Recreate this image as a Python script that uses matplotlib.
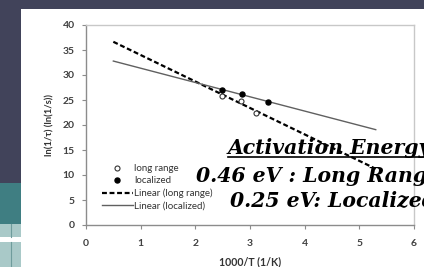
import numpy as np
import matplotlib
matplotlib.use("Agg")
import matplotlib.pyplot as plt
from matplotlib.patches import Rectangle
from matplotlib.lines import Line2D

# data
long_x = [2.48, 2.83, 3.11]
long_y = [25.9, 24.9, 22.5]
loc_x = [2.48, 2.85, 3.33]
loc_y = [27.0, 26.3, 24.6]
trend_range = [0.5, 5.3]
xticks = [0, 1, 2, 3, 4, 5, 6]
yticks = [0, 5, 10, 15, 20, 25, 30, 35, 40]

W, H = 424, 267
fig = plt.figure(figsize=(W / 100, H / 100), dpi=100)
fig.patch.set_facecolor("white")

dark = "#41435a"
teal = "#3f7e82"
light = "#a9c9c8"

# slide decoration around the chart
def px_rect(x0, y0, w, h, color):
    fig.patches.append(Rectangle((x0 / W, 1 - (y0 + h) / H), w / W, h / H,
                                 transform=fig.transFigure, color=color, lw=0, zorder=0))

px_rect(0, 0, W, 9, dark)
px_rect(0, 0, 21, 183, dark)
px_rect(0, 183, 21, 41, teal)
px_rect(0, 224, 21, 13, light)
px_rect(0, 242, 21, 25, light)
for y0, y1 in [(224, 237), (242, 267)]:
    fig.add_artist(Line2D([10.7 / W, 10.7 / W], [1 - y0 / H, 1 - y1 / H],
                          color="#6f9c9c", lw=0.8))

ax = fig.add_axes([86 / W, 1 - 225 / H, 328 / W, 200 / H])
ax.set_facecolor("white")

tx = np.array(trend_range)
p_long = np.polyfit(long_x, long_y, 1)
p_loc = np.polyfit(loc_x, loc_y, 1)

ax.plot(long_x, long_y, "o", mfc="white", mec="#333333", ms=3.6, mew=0.8, label="long range", zorder=4)
ax.plot(loc_x, loc_y, "o", mfc="black", mec="black", ms=3.6, label="localized", zorder=4)
ax.plot(tx, np.polyval(p_long, tx), color="black", lw=1.6, ls=(0, (2.2, 1.2)), label="Linear (long range)")
ax.plot(tx, np.polyval(p_loc, tx), color="#606060", lw=1.0, label="Linear (localized)")

ax.set_xlim(0, 6)
ax.set_ylim(0, 40)
ax.set_xticks(xticks)
ax.set_yticks(yticks)

font = "Lato"
for lab in ax.get_xticklabels() + ax.get_yticklabels():
    lab.set_fontfamily(font)
    lab.set_fontsize(7.5)
    lab.set_fontweight("bold")
    lab.set_color("#404040")
ax.tick_params(axis="both", direction="out", length=3, width=0.8, color="#8c8c8c")
ax.tick_params(axis="y", pad=5)
ax.tick_params(axis="x", pad=7)

for s in ["top", "right"]:
    ax.spines[s].set_color("#c8c8c8")
    ax.spines[s].set_linewidth(1.0)
for s in ["left", "bottom"]:
    ax.spines[s].set_color("#8c8c8c")
    ax.spines[s].set_linewidth(1.0)

leg = ax.legend(loc="upper left", bbox_to_anchor=(0.05, 0.305), frameon=False,
                prop={"family": font, "size": 7}, handlelength=3.1, handletextpad=0.15,
                labelspacing=0.33, borderpad=0, borderaxespad=0)
for t in leg.get_texts():
    t.set_color("#333333")

fig.text(250 / W, 1 - 262 / H, "1000/T (1/K)", ha="center", va="center",
         family=font, fontsize=7.6, fontweight="bold", color="#333333")
fig.text(50 / W, 1 - 125 / H, "ln(1/τ) (ln(1/s))", ha="center", va="center", rotation=90,
         family=font, fontsize=6.8, fontweight="bold", color="#333333")

# overlay text from the slide (cut off at the right edge, as on the slide)
serif = dict(family="DejaVu Serif", fontweight="bold", style="italic", fontsize=14.7, color="black")
fig.text(228 / W, 1 - 154 / H, "Activation Energy", va="baseline", **serif)
fig.text(196 / W, 1 - 182 / H, "0.46 eV : Long Range", va="baseline", **serif)
fig.text(230 / W, 1 - 206 / H, "0.25 eV: Localized", va="baseline", **serif)
fig.add_artist(Line2D([228 / W, 1.05], [1 - 157 / H, 1 - 157 / H], color="black", lw=1.2))

fig.savefig("out.png", dpi=100)
